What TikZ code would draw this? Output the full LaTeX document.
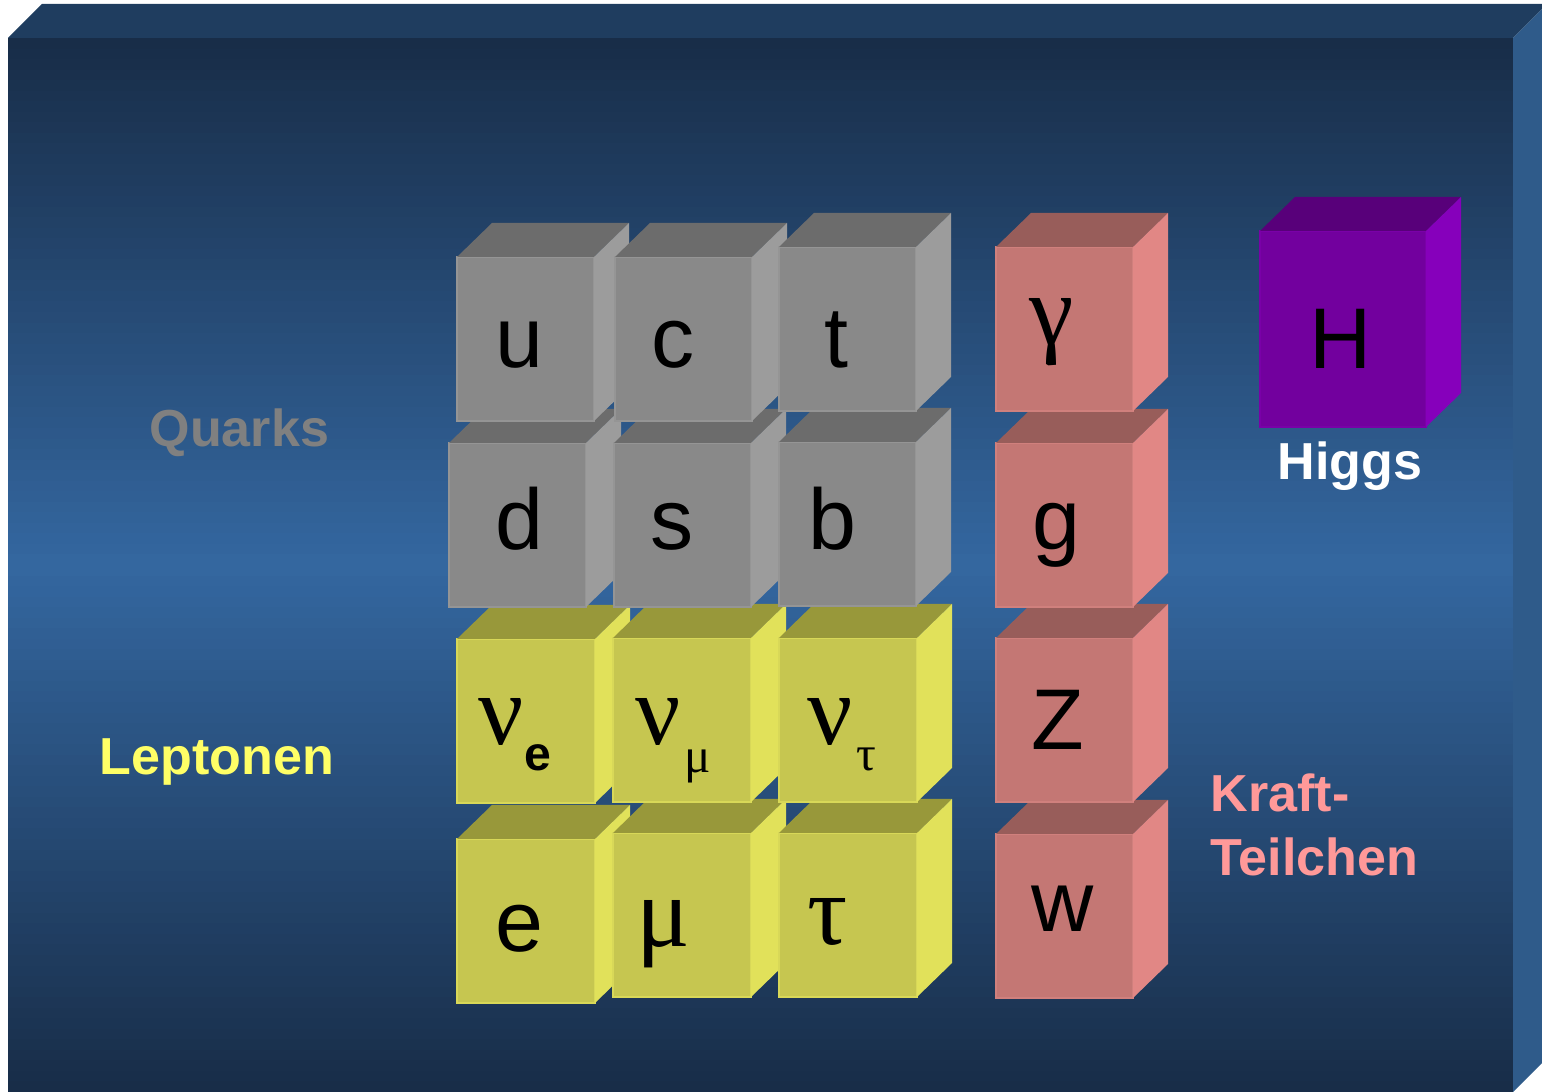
\documentclass[tikz,border=0pt]{standalone}
\usepackage{fontspec}
\setmainfont{Liberation Sans}
\newfontfamily\grfont{Liberation Serif}
\usepackage{xcolor}

% panel
\definecolor{boxdark}{HTML}{182D48}
\definecolor{boxlight}{HTML}{3467A0}
\definecolor{boxtop}{HTML}{1F3D5F}
\definecolor{boxside}{HTML}{2F5B8A}
% cube families
\definecolor{quarkfront}{HTML}{898989}
\definecolor{quarktop}{HTML}{6C6C6C}
\definecolor{quarkside}{HTML}{9C9C9C}
\definecolor{quarkedge}{HTML}{959595}
\definecolor{lepfront}{HTML}{C6C650}
\definecolor{leptop}{HTML}{98983A}
\definecolor{lepside}{HTML}{E1E15A}
\definecolor{lepedge}{HTML}{D8D858}
\definecolor{bosfront}{HTML}{C47774}
\definecolor{bostop}{HTML}{985D5A}
\definecolor{bosside}{HTML}{E18785}
\definecolor{bosedge}{HTML}{D0807D}
\definecolor{higgsfront}{HTML}{72009E}
\definecolor{higgstop}{HTML}{58007A}
\definecolor{higgsside}{HTML}{8600BB}
\definecolor{higgsedge}{HTML}{7A00A8}
\definecolor{quarklabel}{HTML}{808080}
\definecolor{leplabel}{HTML}{FFFF66}
\definecolor{boslabel}{HTML}{FF9999}

\newcommand{\cubefont}{\fontsize{24.5}{29}\selectfont}
\newcommand{\greekbig}{\grfont\fontsize{28.5}{34}\selectfont}
\newcommand{\groupfont}{\bfseries\fontsize{14.8}{18.2}\selectfont}
\newcommand{\subsans}{\rmfamily\bfseries\fontsize{13.7}{16}\selectfont}
\newcommand{\subgreek}{\grfont\fontsize{14}{16}\selectfont}

% name, x, y (front top left), width, height, family
\newcommand{\drawcube}[6]{%
  \node[cubefront, fill=#6front, draw=#6edge,
        minimum width={#4*0.01cm}, minimum height={#5*0.01cm}] (#1) at (#2,#3) {};
  \fill[#6top] (#1.north west) -- ++(0.35cm,0.34cm) -- ++({#4*0.01cm},0cm)
               -- (#1.north east) -- cycle;
  \fill[#6side] (#1.north east) -- ++(0.35cm,0.34cm) -- ++(0cm,{-#5*0.01cm})
               -- (#1.south east) -- cycle;
}

\begin{document}
\begin{tikzpicture}[x=0.01cm,y=-0.01cm,
    cubefront/.style={rectangle, anchor=north west, inner sep=0pt, outer sep=0pt, line width=0.5pt},
    letter/.style={anchor=base, inner sep=0pt, font=\cubefont},
    greek/.style={anchor=base, inner sep=0pt, font=\greekbig},
    group/.style={anchor=base west, inner sep=0pt, font=\groupfont}]
    \useasboundingbox (0,0) rectangle (1542,1092);
    % panel, front face lighter in the middle
    \fill[boxtop] (8,38) -- (42,4) -- (1547,4) -- (1513,38) -- cycle;
    \fill[boxside] (1513,38) -- (1547,4) -- (1547,1058) -- (1513,1092) -- cycle;
    \foreach \i in {0,...,99}{
        \pgfmathsetmacro{\p}{abs(\i-49.5)/49.5*100}
        \fill[boxdark!\p!boxlight] (8,{38+\i*10.54}) rectangle (1513,{38+(\i+1)*10.54+1});
    }

    % leptons, lower row first
    \foreach \n/\x/\y in {e/457/839, mu/613/833, tau/779/833, nue/457/639, numu/613/638, nutau/779/638}{
        \drawcube{\n}{\x}{\y}{138}{164}{lep}
    }
    % quarks
    \foreach \n/\x/\y in {d/449/443, s/614/443, b/779/442, u/457/257, c/615/257, t/779/247}{
        \drawcube{\n}{\x}{\y}{137}{164}{quark}
    }
    % force carriers
    \foreach \n/\y in {w/834, Z/638, g/443, gamma/247}{
        \drawcube{\n}{996}{\y}{137}{164}{bos}
    }
    \drawcube{H}{1260}{231}{166}{196}{higgs}

    % cube letters
    \foreach \n/\x/\y in {u/519/368, c/673/368, t/836/368, d/519/550, s/672/550, b/832/550,
                          e/519/952, g/1056/550, Z/1058/750, w/1063/932, H/1341/369}{
        \node[letter] (l\n) at (\x,\y) {\n};
    }
    \node[greek] (lmu) at (663,947) {μ};
    \node[greek] (ltau) at (828,945) {τ};
    \node[greek] (lgamma) at (1052,345) {γ};
    \node[greek, anchor=base west] (lnue) at (478,745) {ν\lower0.25cm\hbox{\subsans e}};
    \node[greek, anchor=base west] (lnumu) at (635,745) {ν\kern0.03cm\lower0.27cm\hbox{\subgreek μ}};
    \node[greek, anchor=base west] (lnutau) at (807,745) {ν\kern0.03cm\lower0.25cm\hbox{\subgreek τ}};

    % group names
    \node[group, text=quarklabel] (quarks) at (149,447) {Quarks};
    \node[group, text=leplabel] (leptons) at (99,775) {Leptonen};
    \node[group, text=white] (higgs) at (1277,480) {Higgs};
    \node[group, text=boslabel, align=left] (forces) at (1210,876) {Kraft-\\Teilchen};
\end{tikzpicture}
\end{document}
